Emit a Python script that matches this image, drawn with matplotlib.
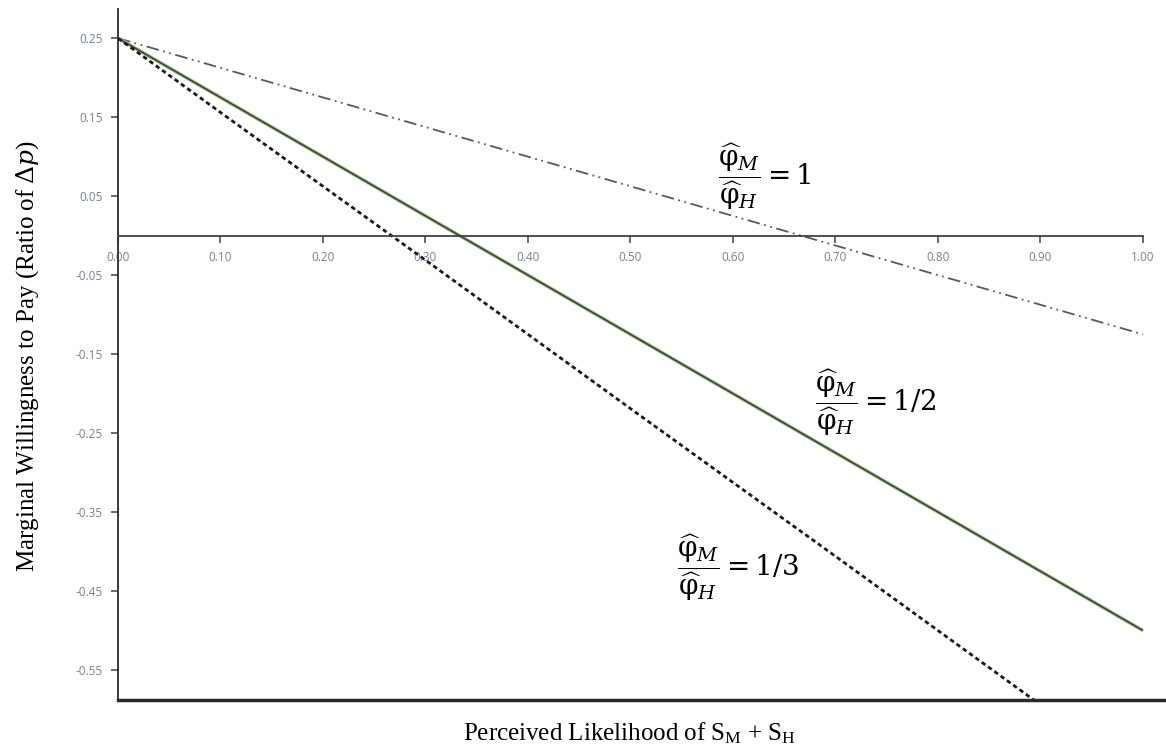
import matplotlib.pyplot as plt

# perceived likelihood of S_M + S_H
x_vals = [0.0, 0.1, 0.2, 0.3, 0.4, 0.5, 0.6, 0.7, 0.8, 0.9, 1.0]

# marginal willingness to pay for each ratio phi_M / phi_H
wtp_ratio_1 = [0.25, 0.2125, 0.175, 0.1375, 0.10, 0.0625, 0.025, -0.0125, -0.05, -0.0875, -0.125]
wtp_ratio_half = [0.25, 0.175, 0.10, 0.025, -0.05, -0.125, -0.20, -0.275, -0.35, -0.425, -0.50]
wtp_ratio_third = [0.25, 0.156, 0.0625, -0.031, -0.125, -0.219, -0.3125, -0.406, -0.50, -0.594, -0.6875]

x_ticks = [0.0, 0.1, 0.2, 0.3, 0.4, 0.5, 0.6, 0.7, 0.8, 0.9, 1.0]
y_ticks = [0.25, 0.15, 0.05, -0.05, -0.15, -0.25, -0.35, -0.45, -0.55]

frac = r'\dfrac{\widehat{\mathrm{\varphi}}_M}{\widehat{\mathrm{\varphi}}_H}'
label_1 = '$' + frac + r' = 1$'
label_half = '$' + frac + r' = 1/2$'
label_third = '$' + frac + r' = 1/3$'

tick_color = '#72829a'

plt.rcParams['mathtext.fontset'] = 'dejavuserif'

fig = plt.figure(figsize=(11.66, 7.46), dpi=100)
ax = fig.add_axes([118 / 1166, 46 / 746, 1048 / 1166, 691 / 746])

ax.plot(x_vals, wtp_ratio_1, color='#595959', lw=1.3,
        linestyle=(0, (7, 2.5, 1, 2.5, 1, 2.5)))
ax.plot(x_vals, wtp_ratio_half, color='#a5bf94', lw=2.6, solid_capstyle='butt')
ax.plot(x_vals, wtp_ratio_half, color='#3b4a30', lw=1.2, solid_capstyle='butt')
ax.plot(x_vals, wtp_ratio_third, color='#1a1a1a', lw=2.0, linestyle=(0, (1.6, 1.2)))

ax.set_xlim(0, 1.0225)
ax.set_ylim(-0.588, 0.287)

# category axis crossing at zero, frame line at the bottom
ax.spines['bottom'].set_position(('data', 0))
ax.spines['bottom'].set_bounds(x_vals[0], x_vals[-1])
ax.spines['bottom'].set_color('#404040')
ax.spines['bottom'].set_linewidth(1.3)
ax.spines['top'].set_position(('axes', 0))
ax.spines['top'].set_color('#2b2b2b')
ax.spines['top'].set_linewidth(2.5)
ax.spines['right'].set_visible(False)
ax.spines['left'].set_color('#2b2b2b')
ax.spines['left'].set_linewidth(1.3)

ax.set_xticks(x_ticks)
ax.set_xticklabels(['%.2f' % v for v in x_ticks])
ax.set_yticks(y_ticks)
ax.set_yticklabels(['%.2f' % v for v in y_ticks])
ax.tick_params(axis='both', direction='out', length=5, width=1.1,
               color='#404040', labelcolor=tick_color, labelsize=8.5, pad=6)
for lbl in ax.get_xticklabels() + ax.get_yticklabels():
    lbl.set_fontfamily('Open Sans')

ax.text(0.585, 0.075, label_1, fontsize=20, ha='left', va='center')
ax.text(0.680, -0.211, label_half, fontsize=20, ha='left', va='center')
ax.text(0.545, -0.420, label_third, fontsize=20, ha='left', va='center')

fig.text(630 / 1166, 1 - 733 / 746, r'Perceived Likelihood of S$_\mathregular{M}$ + S$_\mathregular{H}$',
         fontsize=18, family='Liberation Serif', ha='center', va='center')
fig.text(28 / 1166, 1 - 356 / 746, r'Marginal Willingness to Pay (Ratio of $\Delta p$)',
         fontsize=18, family='Liberation Serif', ha='center', va='center', rotation=90)

fig.savefig('out.png', dpi=100)
